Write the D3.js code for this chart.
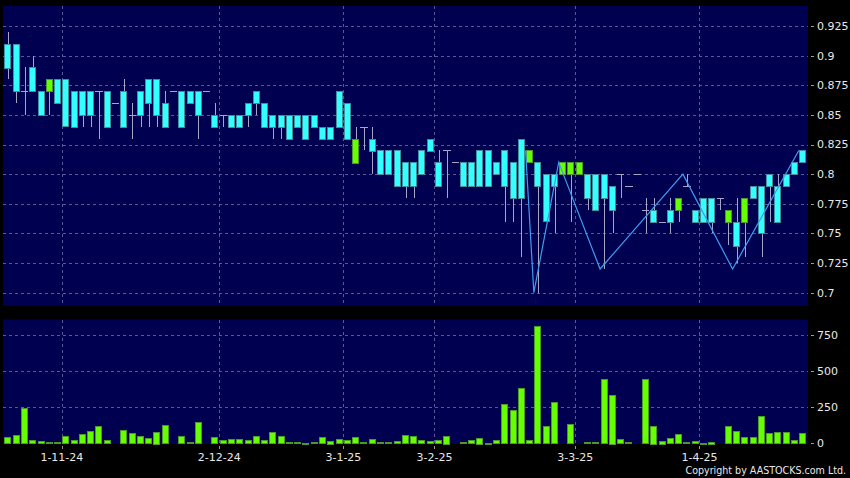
<!DOCTYPE html>
<html>
<head>
<meta charset="utf-8">
<script src="https://cdn.jsdelivr.net/npm/d3@7"></script>
<style>
html,body{margin:0;padding:0;background:#000;}
svg{display:block;}
</style>
</head>
<body>
<svg id="chart" width="850" height="478"></svg>
<script>
// ---- data (index = trading-day slot) ----
const opens  = [0.89,0.87,0.87,0.87,0.85,0.88,0.86,0.84,0.84,0.85,0.85,0.87,0.84,0.86,0.84,0.85,0.85,0.86,0.85,0.84,0.87,0.84,0.86,0.85,0.87,0.84,0.85,0.84,0.84,0.85,0.86,0.84,0.84,0.84,0.83,0.84,0.83,0.84,0.83,0.83,0.84,0.83,0.83,0.84,0.82,0.80,0.80,0.79,0.79,0.79,0.80,0.82,0.79,0.82,0.81,0.79,0.79,0.79,0.79,0.80,0.79,0.78,0.78,0.82,0.79,0.76,0.79,0.81,0.81,0.81,0.78,0.77,0.78,0.77,0.80,0.79,0.80,0.77,0.76,0.76,0.76,0.78,0.79,0.76,0.76,0.76,0.78,0.77,0.74,0.78,0.78,0.75,0.79,0.76,0.79,0.80,0.81];
const closes = [0.91,0.91,0.87,0.89,0.87,0.87,0.88,0.88,0.87,0.87,0.87,0.87,0.87,0.86,0.87,0.85,0.87,0.88,0.88,0.86,0.87,0.87,0.87,0.87,0.87,0.85,0.85,0.85,0.85,0.86,0.87,0.86,0.85,0.85,0.85,0.85,0.85,0.85,0.84,0.84,0.87,0.86,0.81,0.84,0.83,0.82,0.82,0.82,0.81,0.81,0.82,0.83,0.81,0.82,0.81,0.81,0.81,0.82,0.82,0.81,0.82,0.81,0.83,0.81,0.81,0.80,0.80,0.80,0.80,0.80,0.80,0.80,0.80,0.79,0.80,0.79,0.80,0.77,0.77,0.76,0.77,0.77,0.79,0.77,0.78,0.78,0.78,0.76,0.76,0.76,0.79,0.79,0.80,0.79,0.80,0.81,0.82];
const highs  = [0.92,0.91,0.89,0.90,0.87,0.88,0.88,0.88,0.87,0.87,0.87,0.87,0.87,0.86,0.88,0.86,0.87,0.88,0.88,0.87,0.87,0.87,0.87,0.87,0.87,0.86,0.85,0.85,0.85,0.86,0.87,0.86,0.85,0.85,0.85,0.85,0.85,0.85,0.84,0.84,0.87,0.86,0.84,0.84,0.84,0.82,0.82,0.82,0.81,0.81,0.82,0.83,0.82,0.82,0.81,0.81,0.81,0.82,0.82,0.81,0.82,0.81,0.83,0.82,0.81,0.80,0.80,0.81,0.81,0.81,0.80,0.80,0.80,0.79,0.80,0.79,0.80,0.78,0.78,0.76,0.78,0.78,0.80,0.77,0.78,0.78,0.78,0.77,0.78,0.78,0.79,0.79,0.80,0.80,0.80,0.81,0.82];
const lows   = [0.88,0.86,0.85,0.87,0.85,0.85,0.86,0.84,0.84,0.84,0.84,0.83,0.84,0.86,0.84,0.83,0.84,0.84,0.84,0.84,0.87,0.84,0.86,0.83,0.87,0.84,0.84,0.84,0.84,0.84,0.85,0.84,0.83,0.83,0.83,0.84,0.83,0.84,0.83,0.83,0.84,0.83,0.81,0.82,0.80,0.80,0.80,0.79,0.78,0.78,0.80,0.82,0.79,0.78,0.81,0.79,0.79,0.79,0.79,0.80,0.76,0.76,0.73,0.81,0.70,0.76,0.75,0.80,0.76,0.80,0.77,0.77,0.72,0.75,0.78,0.79,0.80,0.75,0.76,0.76,0.75,0.76,0.79,0.76,0.76,0.75,0.77,0.74,0.725,0.73,0.78,0.73,0.76,0.76,0.79,0.80,0.81];
const volumes = [44,57,243,21,14,9,9,48,23,62,82,117,23,0,89,71,50,37,80,126,0,50,7,147,0,41,23,30,30,21,50,23,76,50,9,7,2,9,41,18,30,23,44,7,28,7,9,16,57,48,23,14,23,53,0,9,23,39,5,21,270,231,380,21,811,117,282,0,131,0,9,9,442,337,28,9,0,442,121,18,34,62,9,16,5,11,0,119,85,44,44,188,71,78,78,21,69];
// zigzag overlay (slot index, price)
const zigIdx = [63,64,67,72,82,88,96];
const zigVal = [0.82,0.70,0.81,0.72,0.80,0.72,0.82];
// date labels (slot where month starts)
const dateIdx = [7,26,41,52,69,84];
const dateLabels = ["1-11-24","2-12-24","3-1-25","3-2-25","3-3-25","1-4-25"];
const priceTicks = [0.7,0.725,0.75,0.775,0.8,0.825,0.85,0.875,0.9,0.925];
const volTicks = [0,250,500,750];

// ---- drawing ----
const svg = d3.select("#chart");
const W = 850, H = 478;
const pL = 3, pR = 808;
const top1 = 6, bot1 = 306, top2 = 319.5, bot2 = 444;
const N = opens.length;
const x = d3.scaleLinear().domain([-0.5, N - 0.5]).range([3.9, 807.1]);
const step = x(1) - x(0);
const bw = step * 0.88;
const y = d3.scaleLinear().domain([0.7, 0.925]).range([292.7, 26]);
const yv = d3.scaleLinear().domain([0, 750]).range([443.3, 334.7]);

const panelFill = "#000050", gridCol = "#59599a", textCol = "#e8e8e8";
const cyan = "#33ffff", cyanStroke = "#3f8f9f", lime = "#66ff00", limeStroke = "#4a9a2a", wickCol = "#a6a6c4";

svg.append("rect").attr("width", W).attr("height", H).attr("fill", "#000");
svg.append("rect").attr("x", pL).attr("y", top1).attr("width", pR - pL).attr("height", bot1 - top1).attr("fill", panelFill);
svg.append("rect").attr("x", pL).attr("y", top2).attr("width", pR - pL).attr("height", bot2 - top2).attr("fill", panelFill);

// grids
const g = svg.append("g").attr("stroke", gridCol).attr("stroke-width", 1).attr("stroke-dasharray", "3,3").attr("shape-rendering", "crispEdges");
g.selectAll(".hp").data(priceTicks).join("line")
  .attr("x1", pL).attr("x2", pR).attr("y1", d => Math.round(y(d)) + 0.5).attr("y2", d => Math.round(y(d)) + 0.5);
g.selectAll(".hv").data(volTicks.slice(1)).join("line")
  .attr("x1", pL).attr("x2", pR).attr("y1", d => Math.round(yv(d)) + 0.5).attr("y2", d => Math.round(yv(d)) + 0.5);
const gx = i => Math.round(x(i) - step / 2) + 0.5;
g.selectAll(".v1").data(dateIdx).join("line")
  .attr("x1", gx).attr("x2", gx).attr("y1", top1).attr("y2", bot1);
g.selectAll(".v2").data(dateIdx).join("line")
  .attr("x1", gx).attr("x2", gx).attr("y1", top2).attr("y2", bot2);

// candles
const idx = d3.range(N);
const cg = svg.append("g").attr("shape-rendering", "crispEdges");
cg.selectAll(".wick").data(idx.filter(i => highs[i] !== lows[i])).join("line")
  .attr("x1", i => Math.round(x(i)) + 0.5).attr("x2", i => Math.round(x(i)) + 0.5)
  .attr("y1", i => y(highs[i])).attr("y2", i => y(lows[i]))
  .attr("stroke", wickCol).attr("stroke-width", 1);
cg.selectAll(".dash").data(idx.filter(i => opens[i] === closes[i])).join("line")
  .attr("x1", i => x(i) - bw / 2).attr("x2", i => x(i) + bw / 2)
  .attr("y1", i => Math.round(y(opens[i])) + 0.5).attr("y2", i => Math.round(y(opens[i])) + 0.5)
  .attr("stroke", wickCol).attr("stroke-width", 1);
cg.selectAll(".body").data(idx.filter(i => opens[i] !== closes[i])).join("rect")
  .attr("x", i => Math.round(x(i) - bw / 2) + 0.5)
  .attr("y", i => Math.round(y(Math.max(opens[i], closes[i]))) + 0.5)
  .attr("width", Math.round(bw) - 1)
  .attr("height", i => Math.round(Math.abs(y(opens[i]) - y(closes[i]))))
  .attr("fill", i => closes[i] > opens[i] ? cyan : lime)
  .attr("stroke", i => closes[i] > opens[i] ? cyanStroke : limeStroke)
  .attr("stroke-width", 1);

// zigzag line
const zz = d3.line().x(d => x(d[0]) - step / 2).y(d => y(d[1]));
svg.append("path").datum(zigIdx.map((k, j) => [k, zigVal[j]]))
  .attr("d", zz).attr("fill", "none").attr("stroke", "#3d9cf0").attr("stroke-width", 1.2);

// volume bars
svg.append("g").attr("shape-rendering", "crispEdges").selectAll("rect").data(idx.filter(i => volumes[i] > 0)).join("rect")
  .attr("x", i => Math.round(x(i) - bw / 2) + 0.5)
  .attr("y", i => Math.round(yv(volumes[i])) + 0.5)
  .attr("width", Math.round(bw) - 1)
  .attr("height", i => Math.max(1, Math.round(yv(0) - yv(volumes[i]))))
  .attr("fill", lime).attr("stroke", limeStroke).attr("stroke-width", 1);

// right axes
const ax = svg.append("g").attr("font-family", "DejaVu Sans, sans-serif").attr("font-size", "11px").attr("fill", textCol);
const tickCol = "#9a9a9a";
ax.selectAll(".pt").data(priceTicks).join("line")
  .attr("x1", 811).attr("x2", 814).attr("y1", d => Math.round(y(d)) + 0.5).attr("y2", d => Math.round(y(d)) + 0.5)
  .attr("stroke", tickCol);
ax.selectAll(".pl").data(priceTicks).join("text")
  .attr("x", 817).attr("y", d => y(d)).attr("dy", "0.36em").text(d => d3.format("")(+d.toFixed(3)));
ax.selectAll(".vt").data(volTicks).join("line")
  .attr("x1", 811).attr("x2", 814).attr("y1", d => Math.round(yv(d)) + 0.5).attr("y2", d => Math.round(yv(d)) + 0.5)
  .attr("stroke", tickCol);
ax.selectAll(".vl").data(volTicks).join("text")
  .attr("x", 817).attr("y", d => yv(d)).attr("dy", "0.36em").text(d => d);

// date axis
ax.selectAll(".dt").data(dateIdx).join("line")
  .attr("x1", gx).attr("x2", gx).attr("y1", 446).attr("y2", 449).attr("stroke", tickCol);
ax.selectAll(".dl").data(dateIdx).join("text")
  .attr("x", i => x(i) - step / 2).attr("y", 461).attr("text-anchor", "middle")
  .text((d, j) => dateLabels[j]);

svg.append("text").attr("x", 846).attr("y", 474).attr("text-anchor", "end")
  .attr("font-family", "DejaVu Sans Condensed, DejaVu Sans, sans-serif").attr("font-size", "10.6px")
  .attr("fill", textCol).text("Copyright by AASTOCKS.com Ltd.");
</script>
</body>
</html>
